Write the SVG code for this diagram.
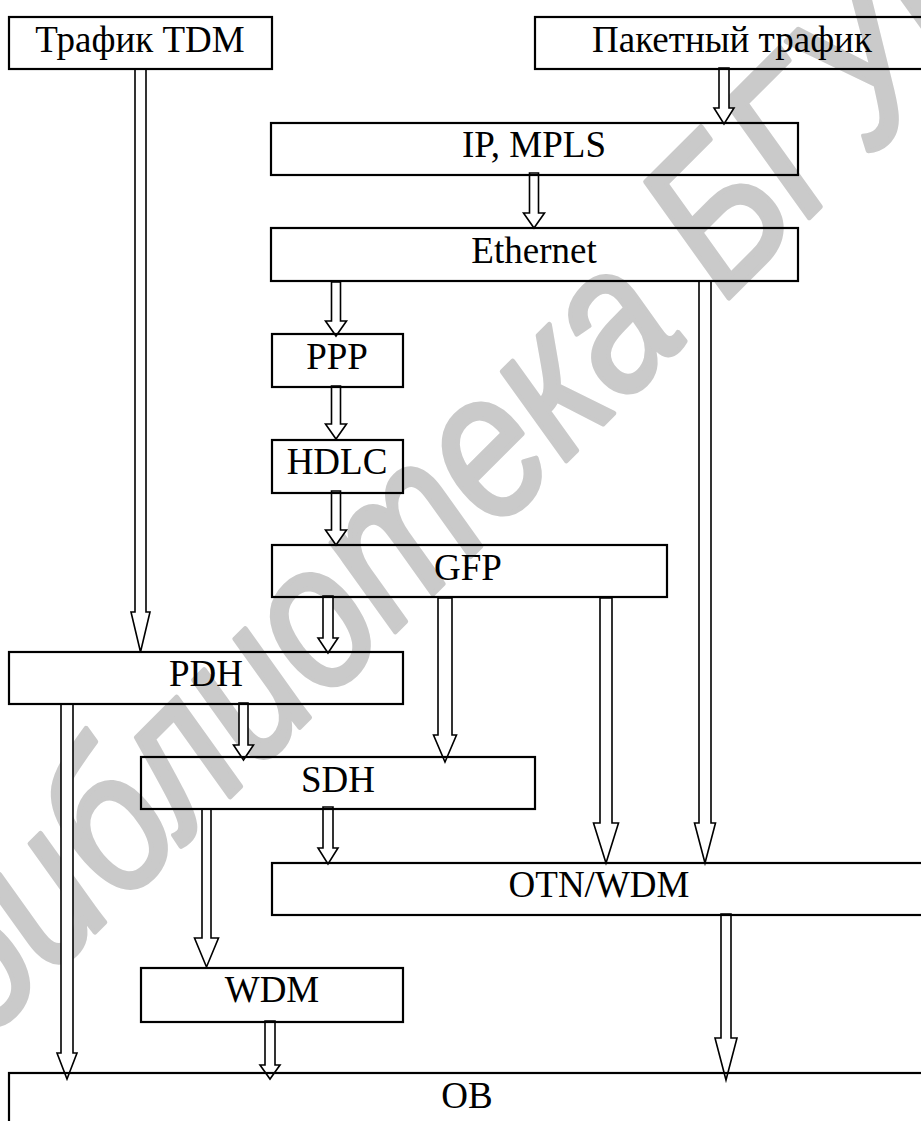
<svg xmlns="http://www.w3.org/2000/svg" width="921" height="1121" viewBox="0 0 921 1121">
<style>
.box{fill:none;stroke:#000;stroke-width:2.2}
.lbl{font-family:'Liberation Serif','Times New Roman',serif;font-size:37px;fill:#000;text-anchor:middle}
.arr{fill:#fff;stroke:#000;stroke-width:1.6;stroke-linejoin:miter}
.wm{font-family:'Liberation Sans',Arial,sans-serif;font-style:italic;font-size:205px;fill:#cacaca;stroke:#cacaca;stroke-width:5;stroke-linejoin:round}
</style>
<rect width="921" height="1121" fill="#fff"/>
<text class="wm" transform="translate(-18,1045) rotate(-45) scale(0.85,1)">библиотека БГУИР</text>
<g id="connectors">
<polygon class="arr" points="135,69 146,69 146,612 150,612 140.5,652 131,612 135,612"/>
<polygon class="arr" points="719,68 729,68 729,108 734,108 724,124 714,108 719,108"/>
<polygon class="arr" points="529.5,173 538.5,173 538.5,213 544.5,213 534,228 523.5,213 529.5,213"/>
<polygon class="arr" points="699,281 711,281 711,823 715.5,823 705,863 694.5,823 699,823"/>
<polygon class="arr" points="331.5,282 340.5,282 340.5,321 346.5,321 336,336 325.5,321 331.5,321"/>
<polygon class="arr" points="331.5,386 340.5,386 340.5,424 346.5,424 336,439 325.5,424 331.5,424"/>
<polygon class="arr" points="331.5,491 340.5,491 340.5,530 346.5,530 336,545 325.5,530 331.5,530"/>
<polygon class="arr" points="323,596 333,596 333,638 338,638 328,653 318,638 323,638"/>
<polygon class="arr" points="438,598 452,598 452,735 456.5,735 445,762 433.5,735 438,735"/>
<polygon class="arr" points="239,703 248,703 248,745 253.5,745 243.5,760 233.5,745 239,745"/>
<polygon class="arr" points="600,598 612,598 612,823 618.5,823 606,863 593.5,823 600,823"/>
<polygon class="arr" points="61,704 73,704 73,1053 77,1053 67,1079 57,1053 61,1053"/>
<polygon class="arr" points="202,809 211,809 211,938 218.5,938 206.5,967 194.5,938 202,938"/>
<polygon class="arr" points="323,807 333,807 333,848 338,848 328,864 318,848 323,848"/>
<polygon class="arr" points="265,1021 275,1021 275,1065 280,1065 270,1079 260,1065 265,1065"/>
<polygon class="arr" points="721,914 731,914 731,1038 737,1038 726,1080 715,1038 721,1038"/>
</g>
<g id="n-tdm"><rect class="box" x="9" y="17" width="263" height="52"/><text class="lbl" x="140" y="52">Трафик TDM</text></g>
<g id="n-packet"><rect class="box" x="535" y="17" width="400" height="52"/><text class="lbl" x="732" y="52">Пакетный трафик</text></g>
<g id="n-ip"><rect class="box" x="271" y="123" width="527" height="52"/><text class="lbl" x="534" y="157">IP, MPLS</text></g>
<g id="n-eth"><rect class="box" x="271" y="228" width="527" height="53"/><text class="lbl" x="534" y="263">Ethernet</text></g>
<g id="n-ppp"><rect class="box" x="272" y="334" width="131" height="53"/><text class="lbl" x="337" y="369">PPP</text></g>
<g id="n-hdlc"><rect class="box" x="272" y="440" width="131" height="53"/><text class="lbl" x="337" y="474">HDLC</text></g>
<g id="n-gfp"><rect class="box" x="272" y="545" width="395" height="52"/><text class="lbl" x="468" y="580">GFP</text></g>
<g id="n-pdh"><rect class="box" x="9" y="652" width="394" height="52"/><text class="lbl" x="206" y="686">PDH</text></g>
<g id="n-sdh"><rect class="box" x="141" y="757" width="394" height="52"/><text class="lbl" x="338" y="792">SDH</text></g>
<g id="n-otn"><rect class="box" x="272" y="863" width="660" height="52"/><text class="lbl" x="599" y="897">OTN/WDM</text></g>
<g id="n-wdm"><rect class="box" x="141" y="968" width="262" height="54"/><text class="lbl" x="272" y="1002">WDM</text></g>
<g id="n-ob"><rect class="box" x="9" y="1073" width="925" height="80"/><text class="lbl" x="467" y="1108">OB</text></g>
</svg>
